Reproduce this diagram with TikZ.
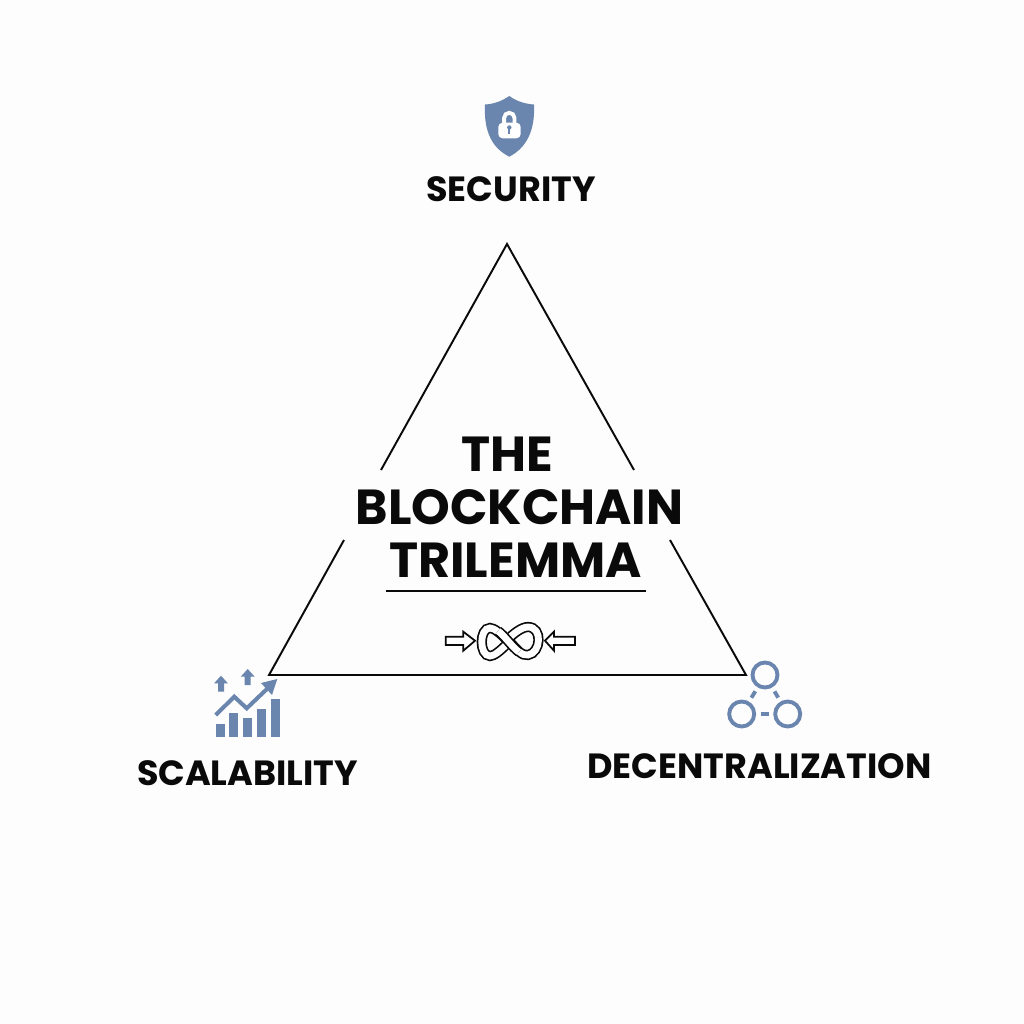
\documentclass[tikz,border=0pt]{standalone}
\usepackage{fontspec}
\setmainfont{Poppins}
\usepackage{xcolor}
\usetikzlibrary{positioning, calc}
\definecolor{myblue}{HTML}{6A85AE}
\definecolor{mypaper}{HTML}{FDFDFD}
\definecolor{myink}{HTML}{0A0A0A}
\tikzset{
  cornerlabel/.style={font=\fontsize{9.95}{11}\selectfont\bfseries, text=myink, inner sep=0pt},
  titleline/.style={font=\fontsize{14}{15}\selectfont\bfseries, text=myink, inner sep=0pt},
  triedge/.style={draw=myink, line width=0.55pt},
  ringnode/.style={circle, draw=myblue, line width=1.1pt, minimum size=2.5mm, inner sep=0pt},
  ringlink/.style={draw=myblue, line width=1.1pt, shorten >=0.45mm, shorten <=0.45mm},
  squeeze/.style={draw=myink, line width=0.5pt, fill=white, line join=miter},
  knotband/.style={draw=myink, line width=2.9pt},
  knotcore/.style={draw=white, line width=1.95pt},
}
\begin{document}
\begin{tikzpicture}[x=0.01cm, y=-0.01cm]
    \fill[mypaper] (0,0) rectangle (1024,1024);
    % triangle, left open behind the title
    \coordinate (apex) at (507,244);
    \coordinate (left) at (269,675);
    \coordinate (right) at (746,675);
    \coordinate (leftup) at (381,470);
    \coordinate (leftdown) at (344,540);
    \coordinate (rightup) at (634,470);
    \coordinate (rightdown) at (670,540);
    \draw[triedge, line join=miter] (leftup) -- (apex) -- (rightup);
    \draw[triedge, line join=miter] (leftdown) -- (left) -- (right) -- (rightdown);
    % title
    \node[titleline] (the) at (507,454) {THE};
    \node[titleline] (blockchain) at (519.5,507) {BLOCKCHAIN};
    \node[titleline] (trilemma) at (515.5,560) {TRILEMMA};
    \coordinate (ruleleft) at (386,591);
    \coordinate (ruleright) at (646,591);
    \draw[myink, line width=0.55pt] (ruleleft) -- (ruleright);
    % knot and the two arrows
    \draw[squeeze] (445.7,636.7) -- (463.3,636.7) -- (463.3,631.7) -- (475,640.7) -- (463.3,650.7) -- (463.3,645) -- (445.7,645) -- cycle;
    \draw[squeeze] (575,636.7) -- (554,636.7) -- (554,631.7) -- (545,640.7) -- (554,650.7) -- (554,645) -- (575,645) -- cycle;
    \foreach \bandstyle in {knotband, knotcore} {
      \draw[\bandstyle] (507,640) .. controls (514,633) and (522,627) .. (528,627) .. controls (543,627) and (541,653) .. (528,655) .. controls (522,656) and (517,650) .. (510,642);
      \draw[\bandstyle] (507,644) .. controls (500,651) and (494,656) .. (490,656) .. controls (479,656) and (479,628) .. (490,628) .. controls (494,628) and (500,633) .. (507,640);
    }
    \foreach \bandstyle in {knotband, knotcore} {
      \draw[\bandstyle] (498,631) .. controls (504,635) and (512,647) .. (519,652);
    }
    % security
    \fill[myblue] (509.3,96) .. controls (502,101) and (494,104) .. (485,104.5) .. controls (484,125) and (488,146) .. (509.3,156.7) .. controls (530,146) and (535,125) .. (534,104.5) .. controls (525,104) and (516,101) .. (509.3,96) -- cycle;
    \draw[white, line width=1.1pt] (504.1,124) -- (504.1,118) arc[start angle=180, end angle=360, radius=5.2] -- (514.5,124);
    \fill[white, rounded corners=1.2] (498.3,122.7) rectangle (520.7,138.3);
    \fill[myblue] (509.3,127.5) circle (2.2);
    \fill[myblue] (508.4,128) rectangle (510.2,134);
    \node[cornerlabel] (security) at (511,189) {SECURITY};
    % scalability
    \foreach \x/\y in {215.7/724.3, 229.3/712.7, 243.3/718.3, 257/709.3, 271/699} {
      \fill[myblue] (\x,\y) rectangle (\x+8.8,737.3);
    }
    \draw[myblue, line width=1.15pt] (215.7,715) -- (234.3,696.7) -- (246.7,708.3) -- (268,688);
    \fill[myblue] (277.3,679) -- (272,695) -- (261,683) -- cycle;
    \foreach \x/\y in {221/675.7, 247.7/669} {
      \fill[myblue] (\x,\y) -- (\x+7,\y+7.7) -- (\x+3,\y+7.7) -- (\x+3,\y+16) -- (\x-3,\y+16) -- (\x-3,\y+7.7) -- (\x-7,\y+7.7) -- cycle;
    }
    \node[cornerlabel] (scalability) at (247.5,773) {SCALABILITY};
    % decentralization
    \node[ringnode] (ringtop) at (765,675) {};
    \node[ringnode] (ringleft) at (741.7,714) {};
    \node[ringnode] (ringright) at (787.7,714) {};
    \draw[ringlink] (ringtop) -- (ringleft);
    \draw[ringlink] (ringtop) -- (ringright);
    \draw[ringlink] (ringleft) -- (ringright);
    \node[cornerlabel] (decentralization) at (759.5,766) {DECENTRALIZATION};
\end{tikzpicture}
\end{document}
